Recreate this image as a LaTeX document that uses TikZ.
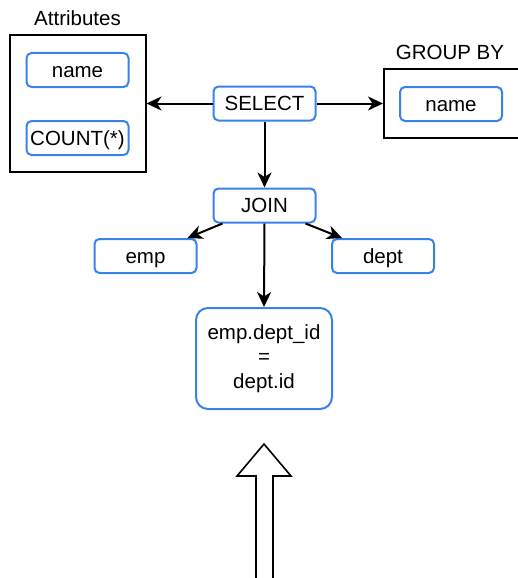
\documentclass[tikz,border=0pt]{standalone}
\usepackage{fontspec}
\setmainfont{Liberation Sans}
\usetikzlibrary{arrows.meta}
\definecolor{itemblue}{RGB}{58,130,235}
\tikzset{
  every node/.style={font=\fontsize{20.5}{24}\selectfont, text=black},
  item/.style={draw=itemblue, line width=2pt, rounded corners=5pt, fill=white,
    minimum width=102pt, minimum height=34pt, inner sep=0pt,
    text height=14.7pt, text depth=0pt},
  frame/.style={draw=black, line width=2pt},
  link/.style={draw=black, line width=2pt,
    -{Stealth[length=15pt,width=14pt,inset=4.5pt]}},
}
\begin{document}
\begin{tikzpicture}[x=1pt,y=-1pt]
\useasboundingbox (0,0) rectangle (517,578);

% Attributes container
\node[frame, minimum width=136pt, minimum height=136pt, inner sep=0pt] (attr) at (77.5,103.5) {};
\node (attrlabel) at (77.5,18) {Attributes};
\node[item] (aname) at (77.5,70) {name};
\node[item] (acount) at (77.5,138) {COUNT(*)};

% GROUP BY container (runs past the right edge)
\node[frame, minimum width=150pt, minimum height=68pt, inner sep=0pt, anchor=west] (grp) at (383,103.5) {};
\node (grplabel) at (450,52) {GROUP BY};
\node[item] (gname) at (451,104) {name};

% query tree
\node[item] (select) at (264.5,103.5) {SELECT};
\node[item] (join) at (264.5,205.5) {JOIN};
\node[item] (emp) at (145.5,256) {emp};
\node[item] (dept) at (383,256) {dept};
\node[item, rounded corners=12pt, minimum width=136pt, minimum height=101pt,
  text height=, text depth=, align=center,
  font=\fontsize{20.5}{24.5}\selectfont] (cond) at (264,358.5)
  {emp.dept\_id\\=\\dept.id};

% connector end points on the box edges
\coordinate (jl) at ([xshift=10pt]join.south west);
\coordinate (el) at ([xshift=-10pt]emp.north east);
\coordinate (jr) at ([xshift=-11pt]join.south east);
\coordinate (dr) at ([xshift=11pt]dept.north west);

\draw[link] (select.west) -- (attr.east);
\draw[link] (select.east) -- (grp.west);
\draw[link] (select.south) -- (join.north);
\draw[link] (jl) -- (el);
\draw[link] (jr) -- (dr);
\draw[link] (join.south) -- (cond.north);

% hollow block arrow pointing up
\draw[black, line width=1.6pt, fill=white]
  (256,582) -- (256,476) -- (237,476) -- (264,444) -- (291,476) -- (273,476) -- (273,582);
\end{tikzpicture}
\end{document}
